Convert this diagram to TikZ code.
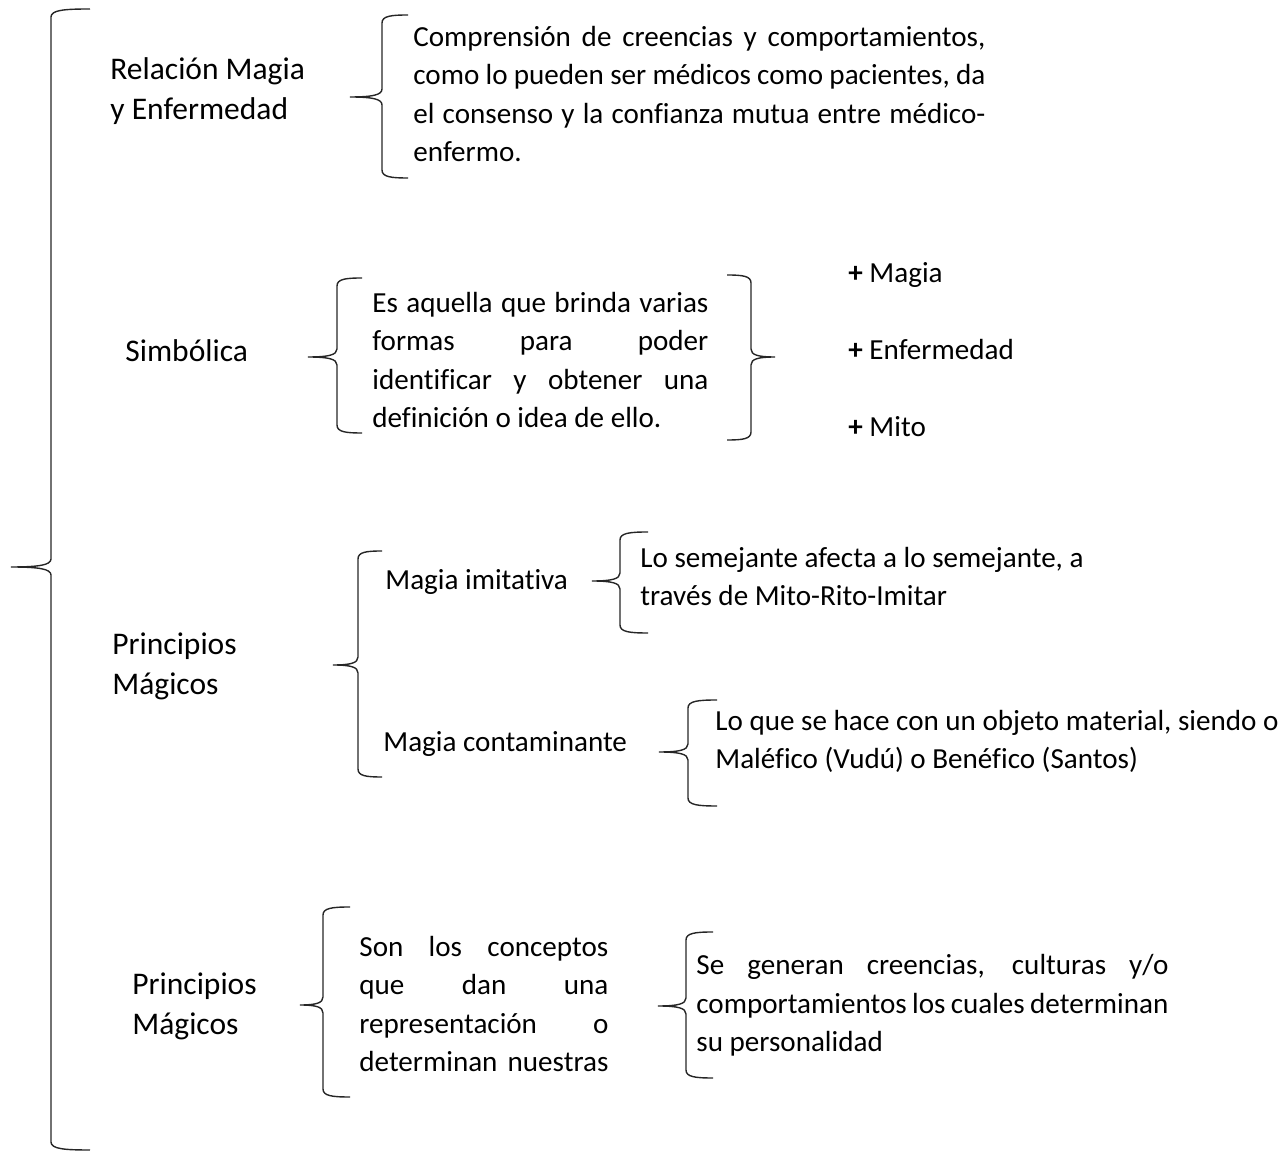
\documentclass[tikz,border=0pt]{standalone}
\usepackage{fontspec}
\setmainfont{Carlito}[Ligatures=NoCommon]
\usetikzlibrary{positioning}

% one justified line, width in px
\newcommand\jl[2]{\makebox[\dimexpr #1pt/2\relax][s]{#2}}
% curly brace: x, top, tip y, bottom, tip x, end x
\newcommand\curlybr[6]{%
  \draw[brc] (#6,#2) .. controls ({#1+0.35*(#6-#1)},#2) and (#1,#2+1) .. (#1,#2+8)
    -- (#1,#3-8) .. controls (#1,#3-2) and ({#1+0.3*(#5-#1)},#3) .. (#5,#3)
    .. controls ({#1+0.3*(#5-#1)},#3) and (#1,#3+2) .. (#1,#3+8)
    -- (#1,#4-8) .. controls (#1,#4-1) and ({#1+0.35*(#6-#1)},#4) .. (#6,#4);}

\begin{document}
\begin{tikzpicture}[
    x=0.5pt, y=-0.5pt,
    brc/.style={draw=black!85, line width=0.7pt},
    lbl/.style={anchor=base west, inner sep=0pt, align=left, font=\fontsize{15.75}{20}\selectfont},
    txt/.style={anchor=base west, inner sep=0pt, align=left, font=\fontsize{14.55}{19.3}\selectfont}
]
\useasboundingbox (0,0) rectangle (1287,1154);

% main brace
\curlybr{51}{9}{567}{1150}{11}{90}

% Relacion (nodes placed by their last baseline)
\node[lbl] (rel) at (110,120) {Relación Magia\\y Enfermedad};
\curlybr{382}{15}{97}{178}{350}{408}
\node[txt] (relt) at (413,162) {\jl{572}{Comprensión de creencias y comportamientos,}\\
  \jl{572}{como lo pueden ser médicos como pacientes, da}\\
  \jl{572}{el consenso y la confianza mutua entre médico-}\\
  enfermo.};

% Simbolica
\node[lbl] (sim) at (125,362) {Simbólica};
\curlybr{337}{278}{357}{433}{308}{362}
\node[txt] (simt) at (372,428) {\jl{336}{Es aquella que brinda varias}\\
  \jl{336}{formas para poder}\\
  \jl{336}{identificar y obtener una}\\
  definición o idea de ello.};
\curlybr{751}{275}{357}{440}{775}{727}
\node[txt] (pmag) at (848,283) {\textbf{+} Magia};
\node[txt] (penf) at (848,360) {\textbf{+} Enfermedad};
\node[txt] (pmit) at (848,437) {\textbf{+} Mito};

% Principios (1)
\node[lbl] (pri) at (112,695) {Principios\\Mágicos};
\curlybr{358}{551}{665}{777}{333}{382}
\node[txt] (imi) at (385,590) {Magia imitativa};
\curlybr{620}{532}{581}{633}{592}{648}
\node[txt] (imit) at (640,606) {Lo semejante afecta a lo semejante, a\\través de Mito-Rito-Imitar};
\node[txt] (con) at (383,752) {Magia contaminante};
\curlybr{688}{700}{752}{806}{659}{717}
\node[txt] (cont) at (715,769) {Lo que se hace con un objeto material, siendo o\\Maléfico (Vudú) o Benéfico (Santos)};

% Principios (2)
\node[lbl] (prb) at (132,1035) {Principios\\Mágicos};
\curlybr{323}{907}{1005}{1097}{300}{350}
\node[txt] (prbt) at (359,1072) {\jl{249}{Son los conceptos}\\
  \jl{249}{que dan una}\\
  \jl{249}{representación o}\\
  \jl{249}{determinan nuestras}};
\curlybr{686}{932}{1006}{1078}{658}{713}
\node[txt] (prbg) at (696,1052) {\jl{472}{Se generan creencias, culturas y/o}\\
  \jl{472}{comportamientos los cuales determinan}\\
  su personalidad};
\end{tikzpicture}
\end{document}
